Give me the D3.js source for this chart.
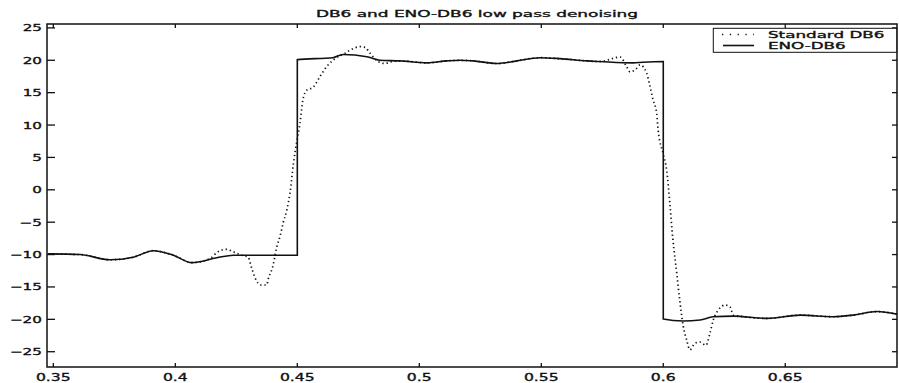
<html lang='en'>
<head>
    <meta content='text/html; charset=utf-8' http-equiv='Content-Type'>
    <title>DB6 and ENO-DB6 low pass denoising</title>
    <script src="https://d3js.org/d3.v7.min.js"></script>
    <style>
        body { margin: 0; background: #fff; }
        svg text { font-family: "DejaVu Sans", sans-serif; fill: #111; stroke: #111; stroke-width: 0.35px; }
        .frame { fill: none; stroke: #111; stroke-width: 1.5px; }
        .tick-line { stroke: #111; stroke-width: 1.3px; }
        .eno { fill: none; stroke: #111; stroke-width: 1.6px; }
        .std { fill: none; stroke: #111; stroke-width: 1.7px; stroke-dasharray: 1.3,2.9; }
    </style>
</head>
<body>
<script>
// ENO-DB6 (solid)
var enoX = [0.3479, 0.3609, 0.3732, 0.3828, 0.3910, 0.3992, 0.4067, 0.4170, 0.4238, 0.4500,
            0.4500, 0.4646, 0.4687, 0.4785, 0.4838, 0.4921, 0.5031, 0.5113, 0.5167, 0.5220,
            0.5318, 0.5400, 0.5495, 0.5577, 0.5687, 0.5741, 0.5876, 0.5917, 0.6000,
            0.6000, 0.6081, 0.6151, 0.6204, 0.6286, 0.6426, 0.6561, 0.6696, 0.6778, 0.6876, 0.6958];
var enoY = [-9.9, -10.0, -10.8, -10.4, -9.4, -10.1, -11.25, -10.5, -10.1, -10.1,
            20.1, 20.4, 20.9, 20.55, 20.0, 19.9, 19.6, 19.9, 20.0, 19.9,
            19.5, 19.9, 20.4, 20.25, 19.9, 19.8, 19.6, 19.7, 19.8,
            -19.95, -20.25, -20.1, -19.6, -19.5, -19.85, -19.35, -19.6, -19.35, -18.8, -19.2];

// Standard DB6 (dotted)
var stdX = [0.3479, 0.3609, 0.3732, 0.3828, 0.3910, 0.3992, 0.4067, 0.4142, 0.4175, 0.4208,
            0.4236, 0.4265, 0.4298, 0.4313, 0.4327, 0.4350, 0.4375, 0.4380, 0.4399, 0.4416,
            0.4429, 0.4442, 0.4457, 0.4470, 0.4484, 0.4498, 0.4511, 0.4523, 0.4539, 0.4564,
            0.4593, 0.4620, 0.4646, 0.4696, 0.4723, 0.4757, 0.4777, 0.4798, 0.4831, 0.4859,
            0.4888, 0.4921, 0.5031, 0.5113, 0.5167, 0.5220, 0.5318, 0.5400, 0.5495, 0.5577,
            0.5687, 0.5741, 0.5823, 0.5850, 0.5864, 0.5891, 0.5905, 0.5932, 0.5946, 0.5958,
            0.5973, 0.5979, 0.6000, 0.6014, 0.6027, 0.6039, 0.6055, 0.6068, 0.6082, 0.6096,
            0.6109, 0.6130, 0.6150, 0.6175, 0.6191, 0.6205, 0.6225, 0.6253, 0.6273, 0.6287,
            0.6426, 0.6561, 0.6696, 0.6778, 0.6876, 0.6958];
var stdY = [-9.9, -10.0, -10.8, -10.4, -9.4, -10.1, -11.25, -10.6, -9.55, -9.2,
            -9.55, -10.0, -10.4, -12.1, -13.6, -14.7, -14.7, -13.9, -11.9, -8.8,
            -7.2, -5.1, -3.1, -0.5, 4.0, 7.5, 10.3, 13.9, 15.4, 15.8,
            17.5, 19.0, 20.0, 21.1, 21.7, 22.1, 22.0, 21.1, 19.8, 19.5,
            19.8, 19.9, 19.6, 19.9, 20.0, 19.9, 19.5, 19.9, 20.4, 20.25,
            19.9, 19.8, 20.5, 19.0, 18.2, 18.75, 19.3, 18.0, 15.9, 13.9,
            11.8, 9.2, 5.5, 3.0, -2.1, -7.5, -12.8, -17.2, -21.1, -23.2,
            -24.7, -23.7, -23.5, -24.0, -22.2, -20.1, -18.6, -17.8, -18.05, -19.35,
            -19.85, -19.35, -19.6, -19.35, -18.8, -19.2];

var xTicks = [0.35, 0.4, 0.45, 0.5, 0.55, 0.6, 0.65];
var yTicks = [-25, -20, -15, -10, -5, 0, 5, 10, 15, 20, 25];
var seriesNames = ["Standard DB6", "ENO-DB6"];
var title = "DB6 and ENO-DB6 low pass denoising";

var W = 899, H = 383;
var box = {left: 47, right: 897, top: 24, bottom: 367};

var x = d3.scaleLinear().domain([0.3474, 0.6958]).range([box.left, box.right]);
var y = d3.scaleLinear().domain([-27.36, 25.6]).range([box.bottom, box.top]);

var svg = d3.select("body").append("svg")
    .attr("width", W).attr("height", H);

// widen a text element (the scanned lettering is stretched horizontally)
function stretch(sel, k) {
    sel.each(function() {
        var w = this.getComputedTextLength();
        d3.select(this).attr("textLength", w * k).attr("lengthAdjust", "spacingAndGlyphs");
    });
}

var line = d3.line()
    .x(function(d) { return x(d[0]); })
    .y(function(d) { return y(d[1]); })
    .curve(d3.curveMonotoneX);

var enoData = enoX.map(function(v, i) { return [v, enoY[i]]; });
var stdData = stdX.map(function(v, i) { return [v, stdY[i]]; });

svg.append("path").attr("class", "std").attr("d", line(stdData));
svg.append("path").attr("class", "eno").attr("d", line(enoData));

// frame
svg.append("rect").attr("class", "frame")
    .attr("x", box.left).attr("y", box.top)
    .attr("width", box.right - box.left).attr("height", box.bottom - box.top);

// ticks, inward on all four sides
var fmt = d3.format("");
xTicks.forEach(function(t) {
    svg.append("line").attr("class", "tick-line")
        .attr("x1", x(t)).attr("x2", x(t)).attr("y1", box.bottom).attr("y2", box.bottom - 4);
    svg.append("line").attr("class", "tick-line")
        .attr("x1", x(t)).attr("x2", x(t)).attr("y1", box.top).attr("y2", box.top + 4);
});
yTicks.forEach(function(t) {
    svg.append("line").attr("class", "tick-line")
        .attr("x1", box.left).attr("x2", box.left + 8).attr("y1", y(t)).attr("y2", y(t));
    svg.append("line").attr("class", "tick-line")
        .attr("x1", box.right).attr("x2", box.right - 5).attr("y1", y(t)).attr("y2", y(t));
});

svg.selectAll(".xlab").data(xTicks).enter().append("text")
    .attr("class", "xlab")
    .attr("x", function(d) { return x(d); })
    .attr("y", 380.5)
    .attr("text-anchor", "middle")
    .style("font-size", "11px")
    .text(function(d) { return fmt(d); })
    .call(stretch, 1.42);

svg.selectAll(".ylab").data(yTicks).enter().append("text")
    .attr("class", "ylab")
    .attr("x", 42)
    .attr("y", function(d) { return y(d) + 3.5; })
    .attr("text-anchor", "end")
    .style("font-size", "9.5px")
    .text(function(d) { return fmt(d); })
    .call(stretch, 1.6);

svg.append("text")
    .attr("x", 477).attr("y", 17)
    .attr("text-anchor", "middle")
    .style("font-size", "9.5px")
    .text(title)
    .call(stretch, 1.78);

// legend
var lg = svg.append("g");
lg.append("rect")
    .attr("x", 713.3).attr("y", 28.3).attr("width", 183.4).attr("height", 24)
    .attr("fill", "#fff").attr("stroke", "#111").attr("stroke-width", 1);
lg.append("line").attr("class", "std")
    .style("stroke-dasharray", "1.3,6.5")
    .attr("x1", 722).attr("x2", 754).attr("y1", 34.5).attr("y2", 34.5);
lg.append("line").attr("class", "eno")
    .attr("x1", 723).attr("x2", 754).attr("y1", 45.5).attr("y2", 45.5);
lg.selectAll(".lgtext").data(seriesNames).enter().append("text")
    .attr("class", "lgtext")
    .attr("x", 768)
    .attr("y", function(d, i) { return i === 0 ? 37.7 : 49; })
    .style("font-size", "9.5px")
    .text(function(d) { return d; })
    .call(stretch, 1.76);
</script>
</body>
</html>
